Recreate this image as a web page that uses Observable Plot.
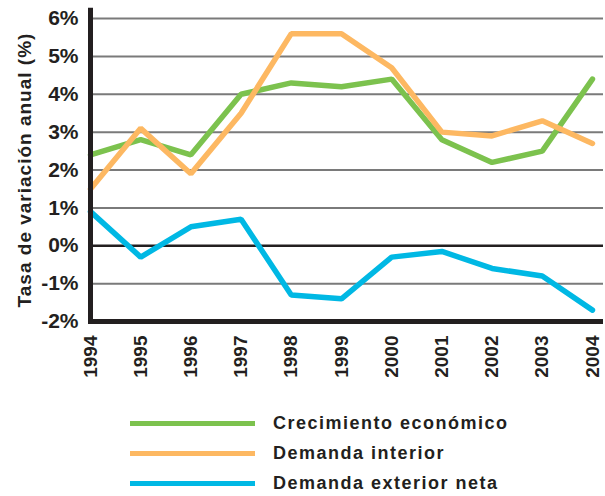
<!DOCTYPE html>
<html><head><meta charset="utf-8">
<script src="https://cdn.jsdelivr.net/npm/d3@7"></script>
<script src="https://cdn.jsdelivr.net/npm/@observablehq/plot@0.6"></script>
<style>
body{margin:0;background:#fff;font-family:"Liberation Sans",Arial,sans-serif;color:#231f20}
#wrap{position:relative;width:605px;height:496px;overflow:hidden}
#legend{position:absolute;left:0;top:380px;width:605px;height:116px}
.row{position:absolute;left:130px;height:30px;display:flex;align-items:center}
.sw{width:125px;height:5px;margin-right:18px}
.lab{font-size:18px;font-weight:bold;letter-spacing:1.5px;color:#231f20}
</style></head><body>
<div id="wrap"><div id="chart"></div><div id="legend"></div></div>
<script>
const years = [1994,1995,1996,1997,1998,1999,2000,2001,2002,2003,2004];
const crecimiento = [2.4,2.8,2.4,4.0,4.3,4.2,4.4,2.8,2.2,2.5,4.4];
const interior = [1.5,3.1,1.9,3.5,5.6,5.6,4.7,3.0,2.9,3.3,2.7];
const exterior = [0.9,-0.3,0.5,0.7,-1.3,-1.4,-0.3,-0.15,-0.6,-0.8,-1.7];
const seriesNames = ["Crecimiento económico","Demanda interior","Demanda exterior neta"];
const seriesColors = ["#7cc24e","#fdb862","#00b8e4"];
const yTicks = [-2,-1,0,1,2,3,4,5,6];
const yLabel = "Tasa de variación anual (%)";

const seriesValues = [crecimiento, interior, exterior];
const data = [];
seriesNames.forEach((s,i)=>years.forEach((y,j)=>data.push({series:s,year:y,value:seriesValues[i][j]})));

const chart = Plot.plot({
  width:605, height:380,
  marginLeft:90, marginRight:2, marginTop:18, marginBottom:59,
  style:{fontFamily:"'Liberation Sans',Arial,sans-serif", fontSize:"21px", fontWeight:"bold", color:"#231f20", background:"white"},
  x:{domain:[1994,2004.22], ticks:years, tickFormat:d=>String(d), tickRotate:-90, tickSize:0, tickPadding:14, label:null},
  y:{domain:[-2,6], ticks:yTicks, tickFormat:d=>d+"%", tickSize:0, tickPadding:12, label:yLabel, labelAnchor:"center", labelArrow:"none", labelOffset:73},
  color:{domain:seriesNames, range:seriesColors},
  marks:[
    Plot.gridY(yTicks.filter(d=>d!==0 && d!==-2), {stroke:"#7a7a7a", strokeOpacity:1, strokeWidth:2}),
    Plot.ruleY([0], {stroke:"#231f20", strokeWidth:2.5}),
    Plot.lineY(data, {x:"year", y:"value", stroke:"series", strokeWidth:5.5, strokeLinejoin:"miter"}),
    Plot.ruleY([-2], {stroke:"#231f20", strokeWidth:5, insetLeft:-2}),
    Plot.ruleX([1994], {y1:-2.05, y2:6.27, stroke:"#231f20", strokeWidth:5})
  ]
});
chart.querySelectorAll('[aria-label="y-axis label"] text, [aria-label="y-axis label"]').forEach(e=>{e.style.fontSize="19px";e.style.letterSpacing="1px";e.style.fontWeight="bold";});
chart.querySelectorAll('[aria-label="x-axis tick label"] text').forEach(e=>{e.style.fontSize="19px";});
document.getElementById("chart").appendChild(chart);

const leg = document.getElementById("legend");
seriesNames.forEach((s,i)=>{
  const r = document.createElement("div");
  r.className="row"; r.style.top = (28 + i*30) + "px";
  r.innerHTML = `<div class="sw" style="background:${seriesColors[i]}"></div><span class="lab">${s}</span>`;
  leg.appendChild(r);
});
</script>
</body></html>
